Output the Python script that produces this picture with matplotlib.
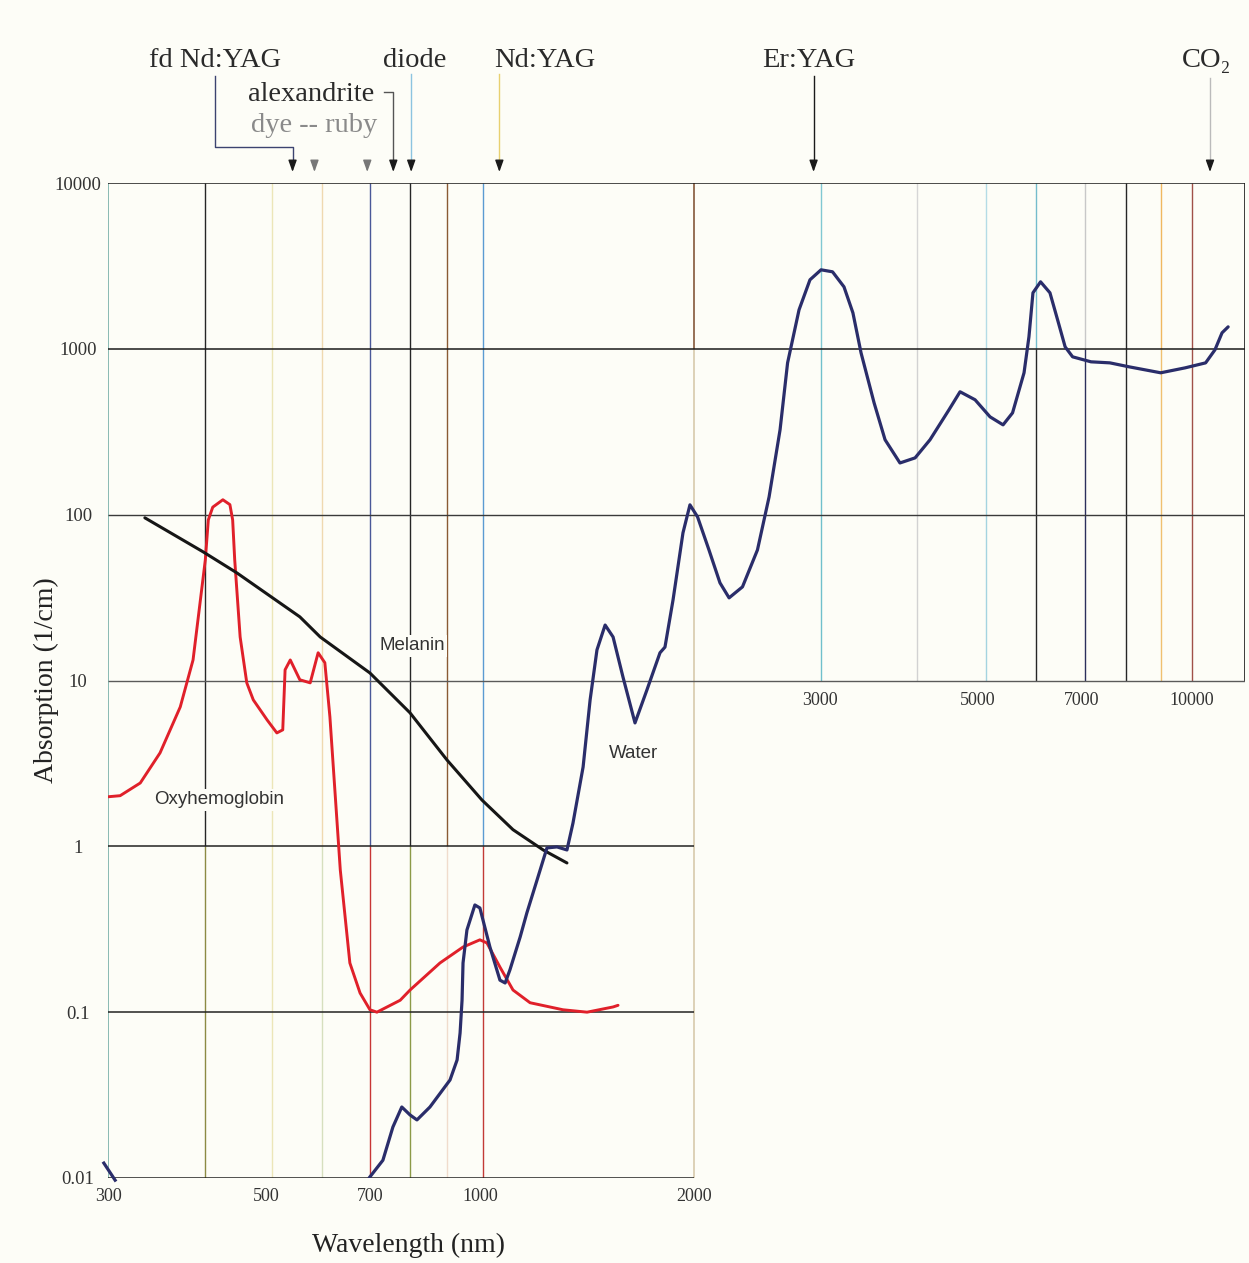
import numpy as np
import matplotlib.pyplot as plt
from matplotlib.ticker import NullLocator

# ---- data (wavelength nm, absorption 1/cm) ----
oxy_wl = [300, 312, 333, 355, 379, 395, 411, 415, 421, 435, 445, 449, 452, 460, 470, 480,
          502, 518, 528, 532, 541, 558, 577, 592, 605, 615, 636, 656, 678, 700, 716, 772,
          797, 878, 946, 999, 1022, 1066, 1112, 1175, 1307, 1413, 1537, 1562]
oxy_abs = [1.99, 2.02, 2.41, 3.66, 6.93, 13.3, 53.4, 93, 111, 123, 115, 93, 53.4, 18.3, 9.68, 7.64,
           5.78, 4.83, 5.04, 11.6, 13.3, 10.1, 9.68, 14.7, 12.8, 6.03, 0.72, 0.198, 0.1305, 0.1034, 0.100, 0.118,
           0.136, 0.198, 0.247, 0.273, 0.2615, 0.187, 0.136, 0.114, 0.1034, 0.100, 0.1075, 0.110]

mel_wl = [338, 408, 455, 558, 596, 700, 797, 898, 1006, 1112, 1226, 1324]
mel_abs = [95.7, 59.7, 44.6, 24.2, 18.3, 11.1, 6.38, 3.32, 1.90, 1.26, 0.951, 0.794]

water_wl = [698, 730, 754, 776, 797, 815, 850, 907, 928, 937,
            943, 946, 958, 983, 999, 1032, 1066, 1084, 1101, 1138,
            1163, 1202, 1241, 1282, 1324, 1350, 1395, 1427, 1459, 1498,
            1537, 1587, 1650, 1715, 1789, 1818, 1866, 1927, 1971, 2020,
            2096, 2172, 2237, 2336, 2452, 2546, 2638, 2703, 2805, 2906,
            3012, 3126, 3244, 3339, 3428, 3576, 3705, 3888, 4083, 4285,
            4556, 4722, 4957, 5203, 5427, 5596, 5808, 5901, 5978, 6127,
            6316, 6474, 6634, 6796, 7213, 7667, 8158, 9037, 9781, 10450,
            10770, 11020, 11240]
water_abs = [0.0100, 0.0128, 0.0203, 0.0268, 0.0240, 0.0224, 0.0268, 0.039, 0.0515, 0.0749,
             0.118, 0.198, 0.313, 0.443, 0.425, 0.247, 0.156, 0.150, 0.180, 0.284,
             0.397, 0.627, 0.978, 0.992, 0.951, 1.38, 3.01, 7.64, 15.3, 21.6,
             18.3, 10.5, 5.55, 8.78, 14.7, 15.9, 30.6, 77.7, 114.6, 97,
             61.3, 38.8, 31.5, 36.7, 61.3, 128, 325, 823, 1719, 2608,
             2996, 2914, 2365, 1649, 946, 472, 283, 205, 220, 283,
             429, 551, 493, 389, 348, 411, 717, 1182, 2177, 2536,
             2177, 1496, 1028, 895, 835, 823, 779, 717, 768, 823,
             986, 1249, 1357]
# stray bit of the water trace at the far left
water_uv_wl = [296, 307]
water_uv_abs = [0.0123, 0.0097]

laser_names = ['fd Nd:YAG', 'dye', 'ruby', 'alexandrite', 'diode', 'Nd:YAG', 'Er:YAG', 'CO₂']
laser_wl = [545, 585, 694, 755, 800, 1064, 2940, 10600]

# vertical reference lines: wavelength, upper colour, lower colour
left_lines_wl = [410, 510, 600, 700, 797, 898, 1009]
left_up = ['#262626', '#ece6b8', '#efd9b0', '#4a5898', '#262626', '#8a5a34', '#5a9bd2']
left_lo = ['#8c8a44', '#ece6b8', '#d6dfbe', '#c83636', '#8c9a48', '#f0dccc', '#c23a36']
right_lines_wl = [3012, 4108, 5136, 6040, 7077, 8078, 9047, 10000]
right_up = ['#80c8d2', '#d6d6d6', '#b4dce6', '#74bccc', '#c8c8c8', '#262626', '#f0b860', '#a05048']
right_lo = ['#70c0cc', '#d2d2d2', '#a4d4e0', '#262626', '#2c2f5c', '#262626', '#f0c070', '#a05048']

y_ticks = [0.01, 0.1, 1, 10, 100, 1000, 10000]
y_labels = ['0.01', '0.1', '1', '10', '100', '1000', '10000']
x_ticks = [300, 500, 700, 1000, 2000]
x_labels = ['300', '500', '700', '1000', '2000']
x_ticks_r = [3000, 5000, 7000, 10000]

XMIN, XMAX = 300, 11870
BG = '#fdfdf7'
SERIF = ['Liberation Serif', 'DejaVu Serif']

# pixel layout of the original
L, R, T, B = 108, 1245, 183, 1178


def fx(px):
    return (px - L) / (R - L)


def fy(py):
    return (B - py) / (B - T)


def wx(wl):
    return np.log10(wl / XMIN) / np.log10(XMAX / XMIN)


fig = plt.figure(figsize=(12.49, 12.63), dpi=100)
fig.patch.set_facecolor(BG)
ax = fig.add_axes([L / 1249, (1263 - B) / 1263, (R - L) / 1249, (B - T) / 1263])
ax.set_facecolor(BG)
ax.set_xscale('log')
ax.set_yscale('log')
ax.set_xlim(XMIN, XMAX)
ax.set_ylim(0.01, 10000)
for s in ax.spines.values():
    s.set_visible(False)

# grid / frame
ax.vlines(XMIN, 0.01, 10000, color='#6aa8a0', lw=1.1)
for wl, cu, cl in zip(left_lines_wl, left_up, left_lo):
    ax.vlines(wl, 1, 10000, color=cu, lw=1.0)
    ax.vlines(wl, 0.01, 1, color=cl, lw=1.0)
ax.vlines(2000, 1000, 10000, color='#7a4a2a', lw=1.1)
ax.vlines(2000, 0.01, 1000, color='#d4c6a6', lw=1.1)
for wl, cu, cl in zip(right_lines_wl, right_up, right_lo):
    ax.vlines(wl, 1000, 10000, color=cu, lw=1.0)
    ax.vlines(wl, 10, 1000, color=cl, lw=1.0)
ax.vlines(XMAX, 10, 10000, color='#1a1a1a', lw=1.2)

ax.hlines([10000, 1000], XMIN, XMAX, color='#1a1a1a', lw=1.1)
ax.hlines(100, XMIN, XMAX, color='#3a3a3a', lw=1.0)
ax.hlines(10, XMIN, XMAX, color='#5a5a5a', lw=1.0)
ax.hlines([1, 0.1, 0.01], XMIN, 2000, color='#222222', lw=1.1)

# curves
curve = dict(solid_capstyle='round', solid_joinstyle='round')
ax.plot(oxy_wl, oxy_abs, color='#e0202a', lw=2.1, zorder=5, **curve)
ax.plot(mel_wl, mel_abs, color='#161616', lw=2.2, zorder=5, **curve)
ax.plot(water_wl, water_abs, color='#2a2d6a', lw=2.3, zorder=6, **curve)
ax.plot(water_uv_wl, water_uv_abs, color='#2a2d6a', lw=2.3, clip_on=False, zorder=6)

# curve labels
lab_box = dict(facecolor=BG, edgecolor='none', pad=1.5)
ax.text(fx(219), fy(800), 'Oxyhemoglobin', transform=ax.transAxes, ha='center', va='center',
        fontsize=13.5, family='Liberation Sans', color='#333333', bbox=lab_box, zorder=7)
ax.text(fx(412), fy(646), 'Melanin', transform=ax.transAxes, ha='center', va='center',
        fontsize=13.5, family='Liberation Sans', color='#333333', bbox=lab_box, zorder=7)
ax.text(fx(634), fy(754), 'Water', transform=ax.transAxes, ha='center', va='center',
        fontsize=13.5, family='Liberation Sans', color='#333333', zorder=7)

# ticks
ax.xaxis.set_minor_locator(NullLocator())
ax.yaxis.set_minor_locator(NullLocator())
ax.set_yticks(y_ticks)
ax.set_yticklabels(y_labels, family=SERIF, fontsize=13.5, color='#333333', ha='center')
ax.tick_params(axis='y', length=0, pad=21.6)
ax.set_xticks(x_ticks)
ax.set_xticklabels(x_labels, family=SERIF, fontsize=13, color='#333333')
ax.tick_params(axis='x', length=0, pad=7)
for v in x_ticks_r:
    ax.annotate(str(v), xy=(v, 10), xytext=(0, -8), textcoords='offset points',
                ha='center', va='top', family=SERIF, fontsize=13, color='#333333')

ax.set_ylabel('Absorption (1/cm)', family=SERIF, fontsize=20, color='#222222')
ax.yaxis.set_label_coords(fx(46), 0.5)
ax.yaxis.label.set_va('center')
ax.set_xlabel('Wavelength (nm)', family=SERIF, fontsize=20, color='#222222')
ax.xaxis.set_label_coords(fx(408), fy(1245))
ax.xaxis.label.set_va('center')

# laser annotations above the plot
lw_ = dict(transform=ax.transAxes, clip_on=False)
tip = fy(172)


def head(wl, color='#1a1a1a', start=162):
    ax.annotate('', xy=(wx(wl), tip), xytext=(wx(wl), fy(start)), xycoords='axes fraction',
                arrowprops=dict(arrowstyle='-|>,head_length=0.7,head_width=0.25',
                                color=color, lw=1.0, shrinkA=0, shrinkB=0))


def toptext(px, py, s, color='#2a2a2a'):
    ax.text(fx(px), fy(py), s, transform=ax.transAxes, ha='center', va='baseline',
            family=SERIF, fontsize=20.5, color=color, clip_on=False)


toptext(215, 67, laser_names[0])
ax.plot([fx(215), fx(215), wx(laser_wl[0]), wx(laser_wl[0])],
        [fy(76), fy(147), fy(147), fy(165)], color='#3c4470', lw=1.0, **lw_)
head(laser_wl[0])

toptext(314, 132, laser_names[1] + ' -- ' + laser_names[2], color='#8a8a8a')
head(laser_wl[1], color='#777777')
head(laser_wl[2], color='#777777')

toptext(311, 101, laser_names[3])
ax.plot([fx(384), wx(laser_wl[3]), wx(laser_wl[3])], [fy(92), fy(92), fy(165)],
        color='#555555', lw=1.0, **lw_)
head(laser_wl[3])

toptext(415, 67, laser_names[4])
ax.plot([wx(laser_wl[4])] * 2, [fy(74), fy(165)], color='#8cc4e0', lw=1.0, **lw_)
head(laser_wl[4])

toptext(545, 67, laser_names[5])
ax.plot([wx(laser_wl[5])] * 2, [fy(74), fy(165)], color='#e8d070', lw=1.0, **lw_)
head(laser_wl[5])

toptext(809, 67, laser_names[6])
ax.plot([wx(laser_wl[6])] * 2, [fy(76), fy(165)], color='#1a1a1a', lw=1.0, **lw_)
head(laser_wl[6])

toptext(1207, 67, laser_names[7])
ax.plot([wx(laser_wl[7])] * 2, [fy(78), fy(165)], color='#bbbbbb', lw=1.0, **lw_)
head(laser_wl[7])

fig.savefig('out.png', dpi=100, facecolor=BG)
